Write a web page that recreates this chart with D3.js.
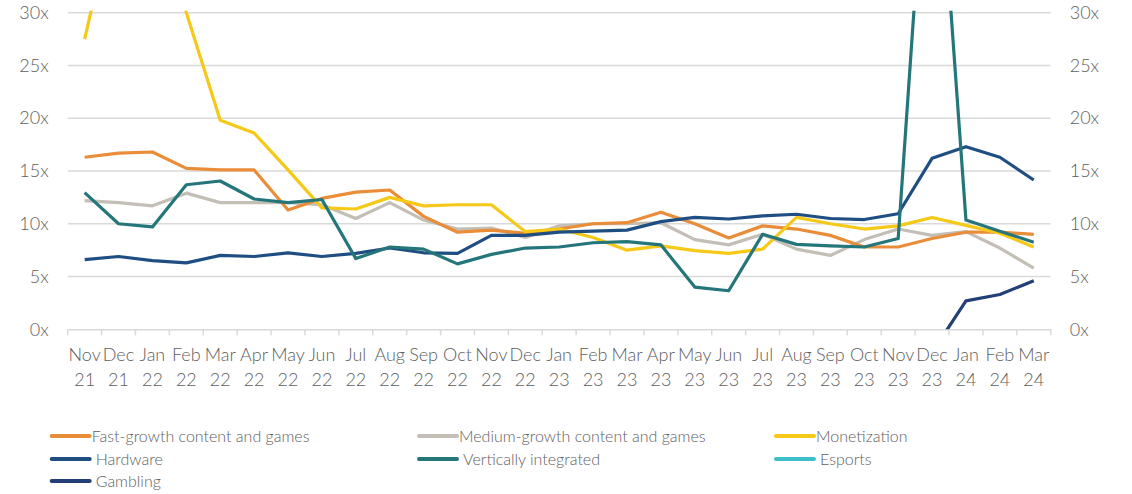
<!DOCTYPE html>
<html><head><meta charset="utf-8">
<script src="https://cdn.jsdelivr.net/npm/d3@7"></script>
<style>
html,body{margin:0;padding:0;background:#fff;}
svg{display:block;font-family:Lato, "Open Sans", sans-serif;}
</style></head>
<body><svg id="c" width="1132" height="494"></svg>
<script>
const categories = ["Nov 21","Dec 21","Jan 22","Feb 22","Mar 22","Apr 22","May 22","Jun 22","Jul 22","Aug 22","Sep 22","Oct 22","Nov 22","Dec 22","Jan 23","Feb 23","Mar 23","Apr 23","May 23","Jun 23","Jul 23","Aug 23","Sep 23","Oct 23","Nov 23","Dec 23","Jan 24","Feb 24","Mar 24"];
const yTicks = [0,5,10,15,20,25,30];
const fastGrowth = [16.3,16.7,16.8,15.25,15.1,15.1,11.3,12.4,13.0,13.2,10.7,9.2,9.4,9.1,9.5,10.0,10.1,11.1,10.0,8.65,9.8,9.5,8.9,7.8,7.8,8.6,9.2,9.2,9.0];
const mediumGrowth = [12.2,12.0,11.7,12.9,12.0,12.0,12.0,11.8,10.5,12.0,10.35,9.5,9.6,8.7,9.8,10.0,10.0,10.1,8.5,8.0,9.0,7.6,7.0,8.5,9.5,8.9,9.25,7.7,5.8];
const monetization = [27.5,41.5,44,30,19.8,18.6,15.1,11.5,11.4,12.5,11.7,11.8,11.8,9.25,9.5,8.7,7.5,7.9,7.45,7.2,7.6,10.6,10.0,9.5,9.8,10.6,9.85,9.1,7.8];
const hardware = [6.6,6.9,6.5,6.3,7.0,6.9,7.25,6.9,7.2,7.7,7.25,7.2,8.9,8.9,9.2,9.3,9.4,10.2,10.6,10.45,10.75,10.9,10.5,10.4,10.95,16.2,17.3,16.3,14.15];
const verticallyIntegrated = [12.95,10.0,9.7,13.7,14.05,12.35,12.0,12.3,6.7,7.8,7.6,6.2,7.1,7.7,7.8,8.2,8.3,8.0,4.0,3.65,9.0,8.05,7.9,7.8,8.6,55,10.35,9.3,8.25];
const esports = categories.map(() => null);
const gambling = [null,null,null,null,null,null,null,null,null,null,null,null,null,null,null,null,null,null,null,null,null,null,null,null,null,-2.2,2.7,3.3,4.6];

const seriesNames = ["Fast-growth content and games","Medium-growth content and games","Monetization","Hardware","Vertically integrated","Esports","Gambling"];
const seriesValues = [fastGrowth, mediumGrowth, monetization, hardware, verticallyIntegrated, esports, gambling];
const seriesColors = ["#E98D38","#C3BFB6","#F6C817","#1F4E82","#24767A","#3CBFC9","#233F78"];
const drawOrder = [1,0,2,6,3,4,5];

const svg = d3.select("#c");
const mLeft = 67.7, mRight = 1050.7, mTop = 12.7, mBottom = 329.3;
const x = d3.scaleBand().domain(categories).range([mLeft, mRight]).padding(0);
const y = d3.scaleLinear().domain([0,30]).range([mBottom, mTop]);

svg.append("defs").append("clipPath").attr("id","clip")
  .append("rect").attr("x", mLeft).attr("y", mTop - 2).attr("width", mRight - mLeft).attr("height", mBottom - mTop + 2);

// gridlines
svg.append("g").selectAll("line").data(yTicks.filter(d => d > 0)).join("line")
  .attr("x1", mLeft).attr("x2", mRight).attr("y1", d => y(d)).attr("y2", d => y(d))
  .attr("stroke", "#D9D9D9").attr("stroke-width", 1.5);

// left & right axes
const fmt = d => d + "x";
const gl = svg.append("g").attr("transform", `translate(${mLeft - 19},0)`)
  .call(d3.axisLeft(y).tickValues(yTicks).tickFormat(fmt).tickSize(0).tickPadding(0));
const gr = svg.append("g").attr("transform", `translate(${mRight + 19},0)`)
  .call(d3.axisRight(y).tickValues(yTicks).tickFormat(fmt).tickSize(0).tickPadding(0));
[gl, gr].forEach(g => {
  g.select(".domain").remove();
  g.selectAll("text").attr("fill", "#5E5E5E").style("font-size", "18px").style("font-family", "Lato, sans-serif").style("font-weight", "300");
});

// x axis
const gx = svg.append("g").attr("transform", `translate(0,${mBottom})`)
  .call(d3.axisBottom(x).tickSize(0).tickFormat(""));
gx.select(".domain").attr("stroke", "#D9D9D9").attr("stroke-width", 1.5);
gx.selectAll(".tick").remove();
const bounds = categories.map(c => x(c)).concat([mRight]);
gx.selectAll("line.sep").data(bounds).join("line").attr("class","sep")
  .attr("x1", d => d).attr("x2", d => d).attr("y1", 0).attr("y2", 6)
  .attr("stroke", "#D9D9D9").attr("stroke-width", 1.5);
const lbl = svg.append("g").selectAll("text").data(categories).join("text")
  .attr("x", d => x(d) + x.bandwidth() / 2)
  .attr("text-anchor", "middle").attr("fill", "#5E5E5E")
  .style("font-size", "18px").style("font-weight", "300");
lbl.append("tspan").attr("x", d => x(d) + x.bandwidth() / 2).attr("y", 361).text(d => d.split(" ")[0]);
lbl.append("tspan").attr("x", d => x(d) + x.bandwidth() / 2).attr("y", 386).text(d => d.split(" ")[1]);

// lines
const line = d3.line()
  .defined(d => d.v !== null)
  .x(d => x(d.c) + x.bandwidth() / 2)
  .y(d => y(d.v));
const lg = svg.append("g").attr("clip-path", "url(#clip)");
drawOrder.forEach(i => {
  const data = categories.map((c, j) => ({c, v: seriesValues[i][j]}));
  lg.append("path").datum(data).attr("d", line)
    .attr("fill", "none").attr("stroke", seriesColors[i]).attr("stroke-width", 3.2)
    .attr("stroke-linejoin", "round").attr("stroke-linecap", "butt");
});

// legend
const legCols = [51.7, 419, 776];
const legRows = [436, 459, 481];
const legPos = [[0,0],[1,0],[2,0],[0,1],[1,1],[2,1],[0,2]];
const leg = svg.append("g").selectAll("g").data(seriesNames).join("g")
  .attr("transform", (d, i) => `translate(${legCols[legPos[i][0]]},${legRows[legPos[i][1]]})`);
leg.append("line").attr("x1", 0).attr("x2", 38).attr("y1", 0).attr("y2", 0)
  .attr("stroke", (d, i) => seriesColors[i]).attr("stroke-width", 4).attr("stroke-linecap", "round");
leg.append("text").attr("x", (d, i) => i === 0 || i === 1 || i === 2 ? 40 : 44).attr("y", 0).attr("dy", "0.35em")
  .attr("fill", "#5E5E5E").style("font-size", "16px").style("font-weight", "300").text(d => d);
</script></body></html>
